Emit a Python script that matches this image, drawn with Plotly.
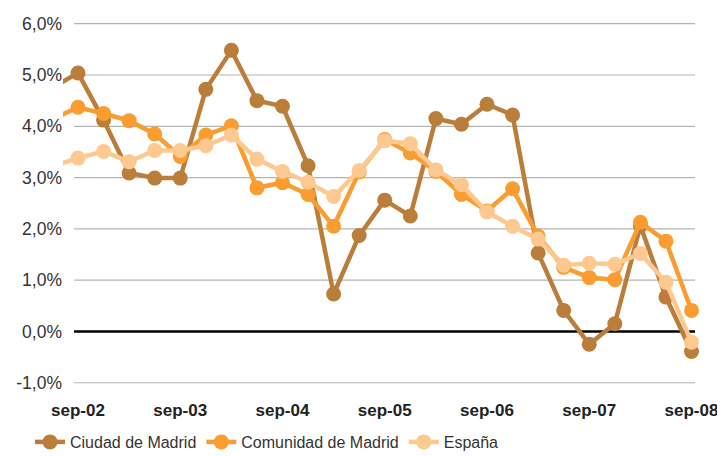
import plotly.graph_objects as go

quarters = ["jun-02", "sep-02", "dic-02", "mar-03", "jun-03", "sep-03", "dic-03", "mar-04", "jun-04",
            "sep-04", "dic-04", "mar-05", "jun-05", "sep-05", "dic-05", "mar-06", "jun-06",
            "sep-06", "dic-06", "mar-07", "jun-07", "sep-07", "dic-07", "mar-08", "jun-08", "sep-08"]

ciudad = [4.75, 5.04, 4.12, 3.09, 2.99, 2.99, 4.72, 5.48, 4.50, 4.39, 3.23, 0.73, 1.87, 2.56, 2.25,
          4.15, 4.04, 4.43, 4.22, 1.53, 0.41, -0.25, 0.15, 2.06, 0.67, -0.39]
comunidad = [4.14, 4.37, 4.25, 4.11, 3.85, 3.41, 3.83, 4.01, 2.80, 2.90, 2.67, 2.05, 3.11, 3.74, 3.48,
             3.12, 2.67, 2.35, 2.78, 1.86, 1.25, 1.05, 1.01, 2.13, 1.76, 0.41]
espana = [3.22, 3.38, 3.51, 3.31, 3.53, 3.53, 3.62, 3.83, 3.36, 3.12, 2.91, 2.63, 3.14, 3.72, 3.66,
          3.15, 2.86, 2.33, 2.05, 1.80, 1.29, 1.33, 1.31, 1.52, 0.96, -0.21]

series_names = ["Ciudad de Madrid", "Comunidad de Madrid", "España"]
series_colors = ["#BA7E3A", "#F99D31", "#FDC990"]

y_ticks = [-1, 0, 1, 2, 3, 4, 5, 6]
y_labels = ["-1,0%", "0,0%", "1,0%", "2,0%", "3,0%", "4,0%", "5,0%", "6,0%"]
x_ticks = [q for q in quarters if q.startswith("sep")]

fig = go.Figure()
for name, vals, col in zip(series_names, [ciudad, comunidad, espana], series_colors):
    fig.add_trace(go.Scatter(
        x=quarters, y=vals, name=name, mode="lines+markers",
        line=dict(color=col, width=4.5),
        marker=dict(color=col, size=15),
    ))

# page body has an 8px margin: work in page pixels, then shift
OFF = 8
W, H = 725 - OFF, 456 - OFF
L, R = 63 - OFF, 712 - OFF
T, B = 16 - OFF, 393 - OFF
grid_x0 = (74 - OFF - L) / (R - L)
grid_x1 = (695 - OFF - L) / (R - L)

shapes = []
for v in y_ticks:
    shapes.append(dict(
        type="line", xref="paper", yref="y", x0=grid_x0, x1=grid_x1, y0=v, y1=v,
        line=dict(color="#000000" if v == 0 else "#B4B4B4", width=2.5 if v == 0 else 1.2),
        layer="below",
    ))

spacing = (691.5 - 78) / 24
xr0 = 1 - (78 - 63) / spacing
xr1 = 25 + (712 - 691.5) / spacing

legend_y = (B - (442 - OFF)) / (B - T)

fig.update_layout(
    width=W, height=H,
    margin=dict(l=L, r=W - R, t=T, b=H - B, autoexpand=False),
    plot_bgcolor="white", paper_bgcolor="white",
    font=dict(family="Liberation Sans, Arial, sans-serif", color="#333333"),
    shapes=shapes,
    showlegend=True,
    legend=dict(orientation="h", x=(30 - 63) / (R - L), xanchor="left",
                y=legend_y, yanchor="middle", font=dict(size=16, color="#333333"),
                traceorder="normal", itemwidth=30),
    xaxis=dict(type="category", categoryorder="array", categoryarray=quarters,
               range=[xr0, xr1], tickmode="array", tickvals=x_ticks,
               ticktext=["<b>" + t + "</b>" for t in x_ticks],
               showgrid=False, zeroline=False, showline=False, automargin=False,
               ticks="outside", ticklen=2, tickcolor="white",
               tickfont=dict(size=17, color="#222222", family="Liberation Sans, Arial, sans-serif")),
    yaxis=dict(range=[-1.2, 6.15], tickmode="array", tickvals=y_ticks, ticktext=y_labels,
               showgrid=False, zeroline=False, showline=False, automargin=False,
               tickfont=dict(size=17.5, color="#333333")),
)

fig.write_html("out.html")
